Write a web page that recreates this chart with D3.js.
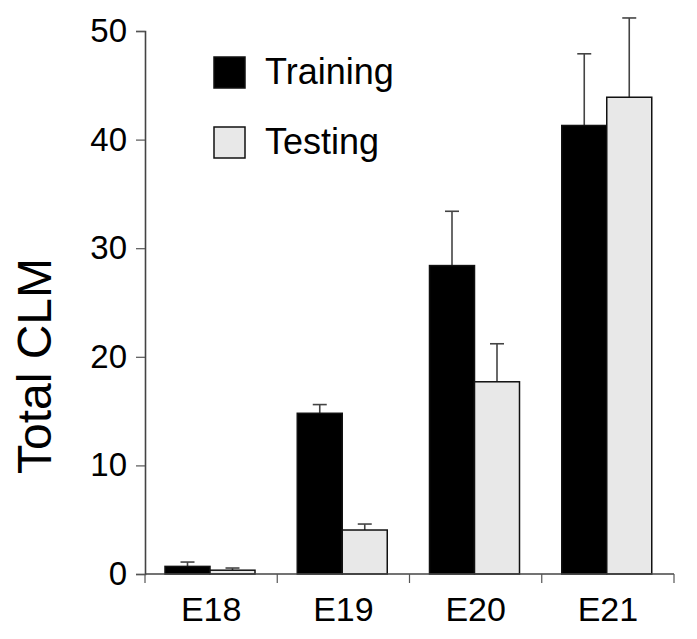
<!DOCTYPE html>
<html>
<head>
<meta charset="utf-8">
<script src="https://cdn.jsdelivr.net/npm/d3@7"></script>
<style>
  body { margin: 0; background: #fff; }
  svg { display: block; font-family: "Liberation Sans", Arial, sans-serif; }
</style>
</head>
<body>
<svg id="chart" width="697" height="639"></svg>
<script>
const width = 697;
const height = 639;

const categories = ["E18", "E19", "E20", "E21"];
const series = ["Training", "Testing"];
const training = [0.7, 14.8, 28.4, 41.3];
const trainingErr = [1.1, 15.6, 33.4, 47.9];
const testing = [0.35, 4.05, 17.7, 43.9];
const testingErr = [0.55, 4.6, 21.2, 51.2];
const yTicks = [0, 10, 20, 30, 40, 50];

const fills = { Training: "#000", Testing: "#e8e8e8" };

const svg = d3.select("#chart");

const x0 = d3.scaleBand().domain(categories).range([145, 674]);
const x1 = d3.scaleBand().domain(series).range([20, 110]);
const y = d3.scaleLinear().domain([0, 50]).range([574, 31]);

// rows for bars
const rows = [];
categories.forEach((c, i) => {
    rows.push({ cat: c, s: "Training", v: training[i], e: trainingErr[i] });
    rows.push({ cat: c, s: "Testing", v: testing[i], e: testingErr[i] });
});

// Error bars (drawn first so the bar top sits over them)
const err = svg.append("g").attr("stroke", "#444").attr("stroke-width", 1.6);
rows.forEach(d => {
    const cx = x0(d.cat) + x1(d.s) + x1.bandwidth() / 2;
    err.append("line").attr("x1", cx).attr("x2", cx).attr("y1", y(d.v)).attr("y2", y(d.e));
    err.append("line").attr("x1", cx - 7).attr("x2", cx + 7).attr("y1", y(d.e)).attr("y2", y(d.e));
});

// Bars
svg.append("g").selectAll("rect")
    .data(rows)
    .join("rect")
    .attr("x", d => x0(d.cat) + x1(d.s))
    .attr("y", d => y(d.v))
    .attr("width", x1.bandwidth())
    .attr("height", d => y(0) - y(d.v))
    .attr("fill", d => fills[d.s])
    .attr("stroke", "#111")
    .attr("stroke-width", 1.5);

// Y axis
const yAxis = svg.append("g")
    .attr("transform", "translate(145,0)")
    .call(d3.axisLeft(y).tickValues(yTicks).tickSize(9).tickPadding(9).tickFormat(d3.format("d")));
yAxis.select(".domain").attr("stroke", "#444").attr("stroke-width", 1.6);
yAxis.selectAll(".tick line").attr("stroke", "#555").attr("stroke-width", 1.2);
yAxis.selectAll(".tick text").attr("font-size", 33).attr("fill", "#000")
    .attr("font-family", "Liberation Sans, Arial, sans-serif");

// X axis line
svg.append("line")
    .attr("x1", 145).attr("x2", 674)
    .attr("y1", y(0)).attr("y2", y(0))
    .attr("stroke", "#444").attr("stroke-width", 1.6);

// X boundary ticks
const bounds = [x0(categories[0])].concat(categories.map(c => x0(c) + x0.bandwidth()));
svg.append("g").selectAll("line")
    .data(bounds)
    .join("line")
    .attr("x1", d => d).attr("x2", d => d)
    .attr("y1", y(0)).attr("y2", y(0) + 9)
    .attr("stroke", "#555").attr("stroke-width", 1.2);

// X labels
svg.append("g").selectAll("text")
    .data(categories)
    .join("text")
    .attr("x", d => x0(d) + x0.bandwidth() / 2)
    .attr("y", 621)
    .attr("text-anchor", "middle")
    .attr("font-size", 34)
    .text(d => d);

// Y title
svg.append("text")
    .attr("transform", "translate(51,366) rotate(-90)")
    .attr("text-anchor", "middle")
    .attr("font-size", 48)
    .text("Total CLM");

// Legend
const legend = svg.append("g");
series.forEach((s, i) => {
    const ly = 57 + i * 70;
    legend.append("rect")
        .attr("x", 214).attr("y", ly)
        .attr("width", 31).attr("height", 31)
        .attr("fill", fills[s]).attr("stroke", "#111").attr("stroke-width", 1.5);
    legend.append("text")
        .attr("x", 265).attr("y", ly + 27)
        .attr("font-size", 36)
        .text(s);
});
</script>
</body>
</html>
